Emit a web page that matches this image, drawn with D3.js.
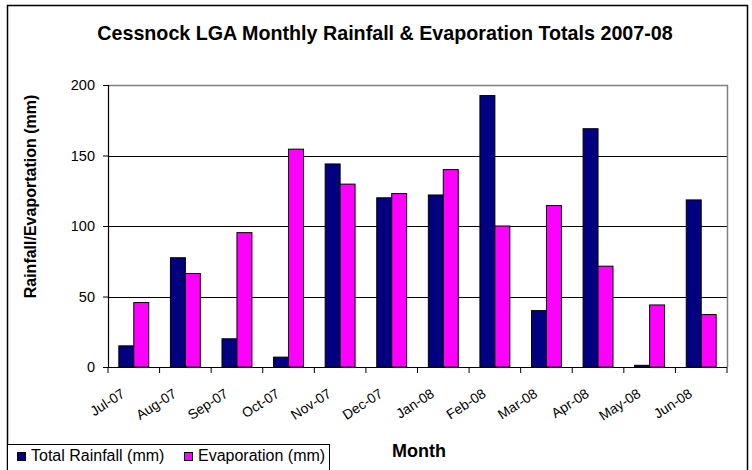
<!DOCTYPE html>
<html><head><meta charset="utf-8">
<script src="https://cdn.jsdelivr.net/npm/d3@7"></script>
<style>body{margin:0;background:#fff}svg{display:block;font-family:"Liberation Sans",Arial,sans-serif}</style>
</head><body>
<svg id="c" width="752" height="470"></svg>
<script>
const months = ["Jul-07","Aug-07","Sep-07","Oct-07","Nov-07","Dec-07","Jan-08","Feb-08","Mar-08","Apr-08","May-08","Jun-08"];
const rainfall = [15, 77.5, 20, 7, 144, 120, 122, 192.5, 40, 169, 1.2, 118.5];
const evaporation = [45.7, 66.3, 95.3, 154.5, 129.7, 123, 140, 100, 114.5, 71.5, 44, 37.2];
const seriesNames = ["Total Rainfall (mm)", "Evaporation (mm)"];
const seriesColors = ["#000080", "#FF00FF"];
const yTicks = [0, 50, 100, 150, 200];

const svg = d3.select("#c");
const L = 108, R = 727, T = 85, B = 367;

// outer chart border
svg.append("rect").attr("x", 7.5).attr("y", 5.5).attr("width", 740).attr("height", 470)
  .attr("fill", "#fff").attr("stroke", "#000").attr("stroke-width", 1.5);

const x = d3.scaleBand().domain(months).range([L, R]).paddingInner(0.42).paddingOuter(0.21);
const x0 = d3.scaleBand().domain(months).range([L, R]);
const y = d3.scaleLinear().domain([0, 200]).range([B, T]);

// gridlines
svg.append("g").selectAll("line").data(yTicks.filter(d => d > 0 && d < 200)).join("line")
  .attr("x1", L).attr("x2", R).attr("y1", d => Math.round(y(d)) + 0.5).attr("y2", d => Math.round(y(d)) + 0.5)
  .attr("stroke", "#000").attr("stroke-width", 1);
// plot area border (top & right gray)
svg.append("path").attr("d", `M${L},${T+0.5}H${R+0.5}V${B}`).attr("fill", "none").attr("stroke", "#808080").attr("stroke-width", 1.5);

// bars
const sub = d3.scaleBand().domain([0, 1]).range([0, x.bandwidth()]);
const data = months.map((m, i) => ({ m, vals: [rainfall[i], evaporation[i]] }));
const g = svg.append("g").selectAll("g").data(data).join("g").attr("transform", d => `translate(${x(d.m)},0)`);
g.selectAll("rect").data(d => d.vals.map((v, k) => ({ v, k }))).join("rect")
  .attr("x", d => sub(d.k)).attr("width", sub.bandwidth())
  .attr("y", d => y(d.v)).attr("height", d => y(0) - y(d.v))
  .attr("fill", d => seriesColors[d.k]).attr("stroke", "#000").attr("stroke-width", 1);

// y axis
const yAxis = svg.append("g").attr("transform", `translate(${L},0)`)
  .call(d3.axisLeft(y).tickValues(yTicks).tickSize(5).tickPadding(8));
yAxis.select(".domain").attr("stroke", "#000").attr("stroke-width", 1.2);
yAxis.selectAll(".tick line").attr("stroke", "#000");
yAxis.selectAll("text").attr("font-size", 14.5).attr("font-family", "Liberation Sans, Arial").attr("fill", "#000");

// x axis: ticks between categories
const xg = svg.append("g");
xg.append("line").attr("x1", L).attr("x2", R).attr("y1", B + 0.5).attr("y2", B + 0.5).attr("stroke", "#000").attr("stroke-width", 1.2);
xg.selectAll("line.t").data(d3.range(months.length + 1)).join("line").attr("class", "t")
  .attr("x1", i => L + i * x0.step()).attr("x2", i => L + i * x0.step())
  .attr("y1", B).attr("y2", B + 6).attr("stroke", "#000");
xg.selectAll("text").data(months).join("text")
  .attr("transform", d => `translate(${x0(d) + x0.bandwidth() / 2 - 8},${B + 29}) rotate(-33)`)
  .attr("text-anchor", "end").attr("font-size", 13.8).text(d => d);

// titles
svg.append("text").attr("x", 385).attr("y", 40).attr("text-anchor", "middle")
  .attr("font-weight", "bold").attr("font-size", 19.7).text("Cessnock LGA Monthly Rainfall & Evaporation Totals 2007-08");
svg.append("text").attr("transform", `translate(36,196.5) rotate(-90)`).attr("text-anchor", "middle")
  .attr("font-weight", "bold").attr("font-size", 16).text("Rainfall/Evaportation (mm)");
svg.append("text").attr("x", 419).attr("y", 457).attr("text-anchor", "middle")
  .attr("font-weight", "bold").attr("font-size", 18).text("Month");

// legend
const lg = svg.append("g");
lg.append("rect").attr("x", 7.5).attr("y", 444.5).attr("width", 322).attr("height", 30).attr("fill", "#fff").attr("stroke", "#000");
const items = lg.selectAll("g").data(seriesNames).join("g").attr("transform", (d, i) => `translate(${[17, 184][i]},0)`);
items.append("rect").attr("x", 0.5).attr("y", 452.5).attr("width", 8).attr("height", 8)
  .attr("fill", (d, i) => seriesColors[i]).attr("stroke", "#000");
items.append("text").attr("x", 14).attr("y", 461).attr("font-size", 16).text(d => d);
</script>
</body></html>
